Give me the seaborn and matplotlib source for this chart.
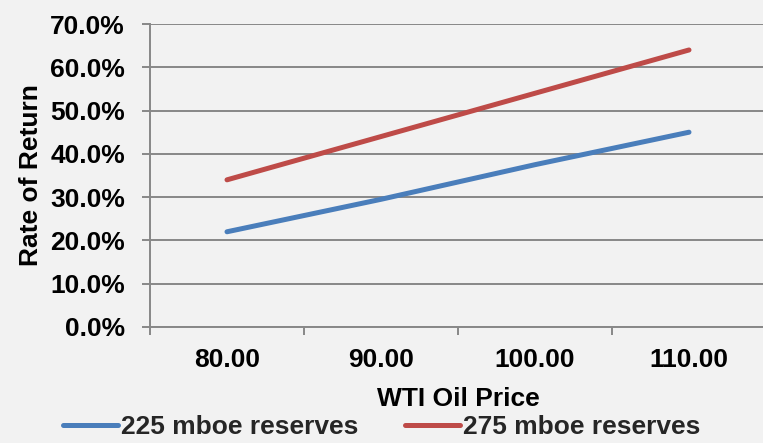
import matplotlib
matplotlib.use("Agg")
import matplotlib.pyplot as plt
import matplotlib.ticker as mticker
from matplotlib.font_manager import FontProperties
import numpy as np
import pandas as pd
import seaborn as sns

# Oil price scenarios (category axis) and rate of return per reserve case
prices = ["80.00", "90.00", "100.00", "110.00"]
ror_225 = [22.0, 29.5, 37.5, 45.0]
ror_275 = [34.0, 44.0, 54.0, 64.0]
series_names = ["225 mboe reserves", "275 mboe reserves"]
y_ticks = [0, 10, 20, 30, 40, 50, 60, 70]

colors = ["#4A7EBB", "#BE4B48"]
bg = "#F2F2F2"
grid_c = "#888888"
FS = 19

sns.set_theme(style="white")
plt.rcParams["font.family"] = ["Liberation Sans", "DejaVu Sans"]
plt.rcParams["font.weight"] = "bold"
bold = FontProperties(family=["Liberation Sans", "DejaVu Sans"], weight="bold", size=FS)

df = pd.DataFrame({
    "pos": list(range(len(prices))) * 2,
    "ror": ror_225 + ror_275,
    "series": [series_names[0]] * len(prices) + [series_names[1]] * len(prices),
})

W, H = 763, 443
fig = plt.figure(figsize=(W / 100, H / 100), dpi=100, facecolor=bg)
ax = fig.add_axes([150 / W, 116 / H, 616 / W, 303 / H], facecolor=bg)

sns.lineplot(data=df, x="pos", y="ror", hue="series", palette=colors,
             linewidth=3.6, ax=ax, legend=False, solid_capstyle="round")

ax.set_xlim(-0.5, len(prices) - 0.5)
ax.set_ylim(0, 70)
ax.set_yticks(y_ticks)
ax.yaxis.set_major_formatter(mticker.FuncFormatter(lambda v, _: f"{v:.1f}%"))
ax.set_xticks(range(len(prices)))
ax.set_xticklabels(prices)
ax.set_xticks(np.arange(-0.5, len(prices), 1.0), minor=True)

ax.grid(axis="y", color=grid_c, linewidth=1.4)
ax.set_axisbelow(True)
for s in ["top", "right"]:
    ax.spines[s].set_visible(False)
for s in ["left", "bottom"]:
    ax.spines[s].set_color(grid_c)
    ax.spines[s].set_linewidth(1.4)

ax.tick_params(axis="y", which="major", length=6, width=1.4, color=grid_c,
               direction="out", pad=12, left=True)
ax.tick_params(axis="x", which="major", length=0, pad=15)
ax.tick_params(axis="x", which="minor", length=6, width=1.4, color=grid_c,
               direction="out", bottom=True)
for lab in ax.get_xticklabels() + ax.get_yticklabels():
    lab.set_fontproperties(bold)
    lab.set_color("black")

ax.set_xlabel("WTI Oil Price", fontproperties=bold, color="black", labelpad=11)
ax.set_ylabel("Rate of Return", fontproperties=bold, color="black", labelpad=5)

handles = [plt.Line2D([], [], color=c, linewidth=3.6, solid_capstyle="round") for c in colors]
fig.legend(handles, series_names, loc="lower center", bbox_to_anchor=(0.5, -0.045),
           ncol=2, frameon=False, handlelength=2.1, handletextpad=0.1,
           columnspacing=1.75, prop=bold)

fig.savefig("out.png", dpi=100, facecolor=bg)
